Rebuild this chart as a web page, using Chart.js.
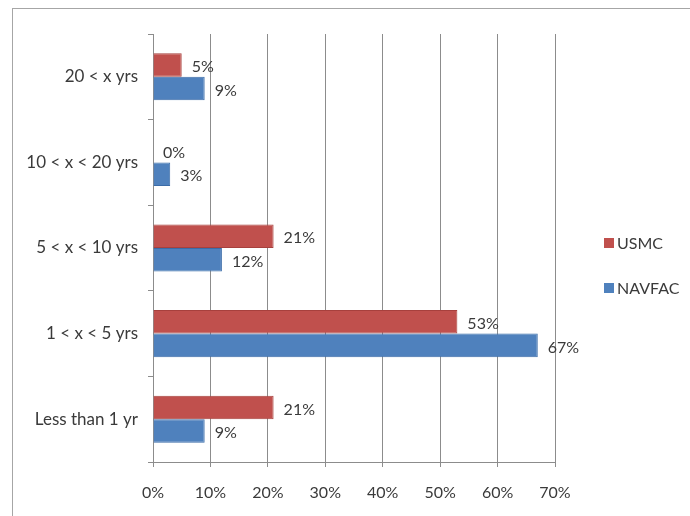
<!DOCTYPE html>
<html>
<head>
<meta charset="utf-8">
<script src="https://cdn.jsdelivr.net/npm/chart.js@4"></script>
<style>
  html, body { margin: 0; padding: 0; background: #fff; }
  #wrap { position: relative; width: 690px; height: 516px; overflow: hidden; }
  #frame { position: absolute; left: 12px; top: 8px; width: 680px; height: 520px; border: 1px solid #a6a6a6; box-sizing: border-box; }
  #chartBox { position: absolute; left: 0; top: 0; width: 690px; height: 516px; }
</style>
</head>
<body>
<div id="wrap">
  <div id="frame"></div>
  <div id="chartBox"><canvas id="expChart"></canvas></div>
</div>
<script>
// Years of experience, percent of respondents
const categories = ['20 < x yrs', '10 < x < 20 yrs', '5 < x < 10 yrs', '1 < x < 5 yrs', 'Less than 1 yr'];
const usmcValues = [5, 0, 21, 53, 21];
const navfacValues = [9, 3, 12, 67, 9];
const xTicks = [0, 10, 20, 30, 40, 50, 60, 70];

const fontFamily = 'Lato, "Open Sans", sans-serif';
const textColor = '#3a3a3a';
const gridColor = '#8c8c8c';

// draws the "5%" style labels just past each bar end
const barLabels = {
    id: 'barLabels',
    afterDatasetsDraw(chart) {
        const ctx = chart.ctx;
        ctx.save();
        ctx.font = '16px ' + fontFamily;
        ctx.fillStyle = textColor;
        ctx.textAlign = 'left';
        ctx.textBaseline = 'middle';
        chart.data.datasets.forEach((ds, i) => {
            chart.getDatasetMeta(i).data.forEach((bar, j) => {
                ctx.fillText(ds.data[j] + '%', bar.x + 10, bar.y + 2);
            });
        });
        ctx.restore();
    }
};

// legend to the right of the plot, like the spreadsheet one
const sideLegend = {
    id: 'sideLegend',
    afterDraw(chart) {
        const ctx = chart.ctx;
        const area = chart.chartArea;
        const midY = (area.top + area.bottom) / 2;
        ctx.save();
        ctx.font = '16px ' + fontFamily;
        ctx.textAlign = 'left';
        ctx.textBaseline = 'middle';
        chart.data.datasets.forEach((ds, i) => {
            const y = midY - 5 + i * 45;
            const x = area.right + 49;
            ctx.fillStyle = ds.backgroundColor;
            ctx.fillRect(x, y - 5, 10, 10);
            ctx.fillStyle = textColor;
            ctx.fillText(ds.label, x + 13, y + 1);
        });
        ctx.restore();
    }
};

const ctxExp = document.getElementById('expChart').getContext('2d');
const expChart = new Chart(ctxExp, {
    type: 'bar',
    data: {
        labels: categories,
        datasets: [{
            label: 'USMC',
            data: usmcValues,
            backgroundColor: '#C0504D',
            borderColor: '#A7403D',
            borderWidth: 1,
            categoryPercentage: 0.55,
            barPercentage: 1
        }, {
            label: 'NAVFAC',
            data: navfacValues,
            backgroundColor: '#4F81BD',
            borderColor: '#3B6CA8',
            borderWidth: 1,
            categoryPercentage: 0.55,
            barPercentage: 1
        }]
    },
    options: {
        indexAxis: 'y',
        responsive: true,
        maintainAspectRatio: false,
        animation: false,
        layout: {
            padding: { left: 0, top: 34, right: 135, bottom: 0 }
        },
        plugins: {
            legend: { display: false },
            tooltip: { enabled: false }
        },
        scales: {
            x: {
                min: 0,
                max: 70,
                afterBuildTicks: (scale) => {
                    scale.ticks = xTicks.map(v => ({ value: v }));
                },
                afterFit: (scale) => { scale.height = 54; },
                ticks: {
                    color: textColor,
                    font: { family: fontFamily, size: 16 },
                    padding: 16,
                    maxRotation: 0,
                    callback: (v) => v + '%'
                },
                grid: {
                    color: gridColor,
                    tickLength: 5,
                    tickColor: gridColor
                },
                border: { color: gridColor }
            },
            y: {
                afterFit: (scale) => { scale.width = 153; },
                ticks: {
                    color: textColor,
                    font: { family: fontFamily, size: 17 },
                    padding: 10
                },
                grid: {
                    offset: true,
                    drawOnChartArea: false,
                    tickLength: 5,
                    color: gridColor
                },
                border: { color: gridColor }
            }
        }
    },
    plugins: [barLabels, sideLegend]
});
</script>
</body>
</html>
